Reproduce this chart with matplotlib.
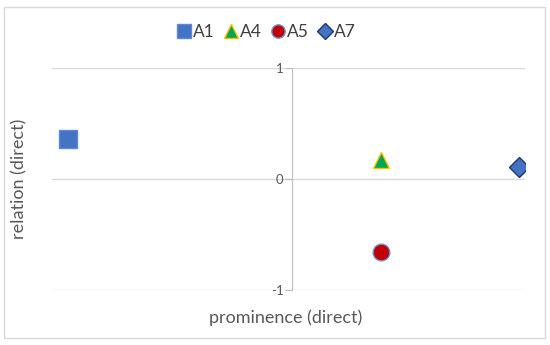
import matplotlib.pyplot as plt
from matplotlib.patches import Rectangle

# data
labels = ["A1", "A4", "A5", "A7"]
prominence = [0.34, 6.96, 6.96, 9.87]
relation = [0.36, 0.17, -0.66, 0.11]
axis_cross = 5.07
y_ticks = [-1, 0, 1]

markers = ["s", "^", "o", "D"]
faces = ["#4472C4", "#00A651", "#C00000", "#4472C4"]
edges = ["#5B8BD8", "#FFC000", "#6F8FD0", "#1F3864"]
sizes = [13, 12, 12, 10]

plt.rcParams["font.family"] = ["Lato", "DejaVu Sans"]
plt.rcParams["axes.unicode_minus"] = False

fig = plt.figure(figsize=(5.5, 3.45), dpi=100)
ax = fig.add_axes([52 / 550, 55 / 345, 473 / 550, 222 / 345])

for lab, x, y, m, fc, ec, s in zip(labels, prominence, relation, markers, faces, edges, sizes):
    ax.plot(x, y, linestyle="none", marker=m, markersize=s, markerfacecolor=fc,
            markeredgecolor=ec, markeredgewidth=1.0, label=lab, zorder=3)

ax.set_xlim(0, 10)
ax.set_ylim(-1, 1)
ax.set_yticks(y_ticks)
ax.set_xticks([])

for sp in ["top", "right", "bottom"]:
    ax.spines[sp].set_visible(False)
ax.spines["left"].set_position(("data", axis_cross))
ax.spines["left"].set_color("#BFBFBF")
ax.tick_params(axis="y", colors="#BFBFBF", labelcolor="#595959", labelsize=9.5, length=5, pad=1)
ax.grid(axis="y", color="#D9D9D9", linewidth=1)
ax.set_axisbelow(True)

fig.text(19 / 550, 1 - 179 / 345, "relation (direct)", rotation=90, ha="center", va="center",
         fontsize=13, color="#595959")
fig.text(286 / 550, 1 - 318 / 345, "prominence (direct)", ha="center", va="center",
         fontsize=13, color="#595959")

fig.legend(loc="center", bbox_to_anchor=(266 / 550, 1 - 32 / 345), ncol=4, frameon=False,
           fontsize=12.5, handletextpad=0.05, columnspacing=0.5, labelcolor="#404040",
           handlelength=0.9, markerscale=0.8)

fig.patches.append(Rectangle((4 / 550, 7 / 345), 541 / 550, 331 / 345, transform=fig.transFigure,
                             fill=False, edgecolor="#D9D9D9", linewidth=1))

fig.savefig("out.png", dpi=100)
